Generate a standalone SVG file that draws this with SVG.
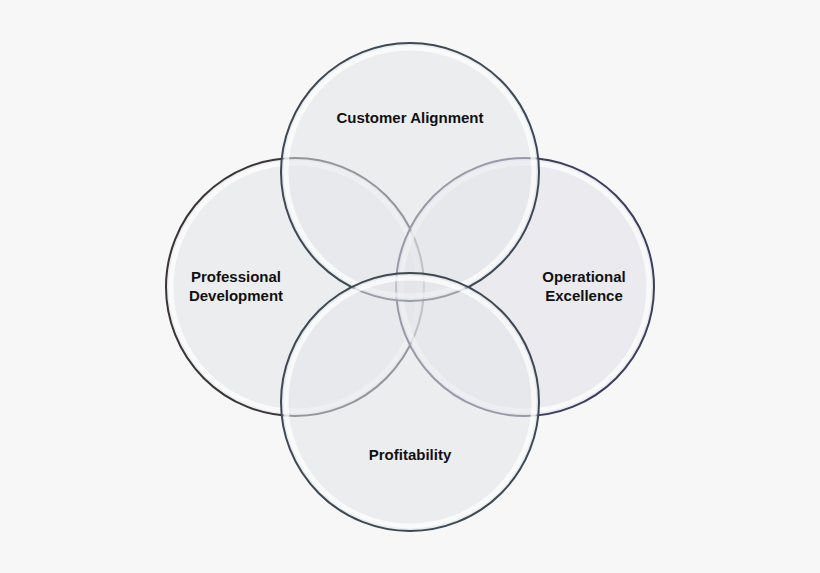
<svg xmlns="http://www.w3.org/2000/svg" width="820" height="573" viewBox="0 0 820 573">
<style>
.c{fill:#e4e6ea;fill-opacity:0.55;stroke-width:2}
.h{fill:none;stroke:#ffffff;stroke-opacity:0.7;stroke-width:5}
.t{font-family:"Liberation Sans",Arial,sans-serif;font-weight:bold;font-size:15px;fill:#111;text-anchor:middle}
</style>
<rect width="820" height="573" fill="#f7f7f7"/>
<g id="left"><circle class="c" cx="295" cy="287" r="129" stroke="#3a3438"/><circle class="h" cx="295" cy="287" r="124"/><text class="t" x="236" y="282">Professional</text><text class="t" x="236" y="301">Development</text></g>
<g id="right"><circle class="c" cx="525" cy="287" r="129" stroke="#3c3f5c" style="fill:#e2e1ea"/><circle class="h" cx="525" cy="287" r="124"/><text class="t" x="584" y="282">Operational</text><text class="t" x="584" y="301">Excellence</text></g>
<g id="top"><circle class="c" cx="410" cy="172" r="129" stroke="#3d4a55"/><circle class="h" cx="410" cy="172" r="124"/><text class="t" x="410" y="123">Customer Alignment</text></g>
<g id="bottom"><circle class="c" cx="410" cy="402" r="129" stroke="#3d4a55"/><circle class="h" cx="410" cy="402" r="124"/><text class="t" x="410" y="460">Profitability</text></g>
</svg>
